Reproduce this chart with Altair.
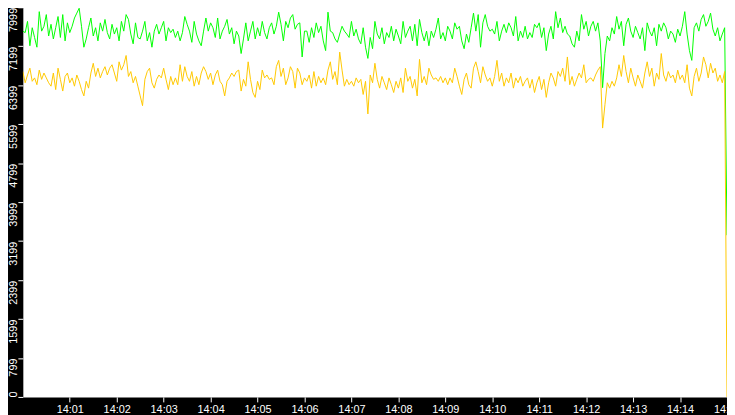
import altair as alt
import pandas as pd

# ---- series values (one sample every 3 s from 14:00:00) ----
green_a = [7510, 7480, 7710, 7210, 7580, 7380, 7180, 7910, 7510, 7610,
           7850, 7410, 7650, 7350, 7580, 7810, 7380, 7850, 7310, 7680,
           7480, 7610, 7780, 7880, 7980, 7610, 7180, 7350, 7580, 7780,
           7410, 7580, 7310, 7680, 7510, 7750, 7480, 7350, 7650, 7450,
           7580, 7310, 7710, 7510, 7850, 7750, 7450, 7250, 7680, 7380,
           7350, 7510, 7710, 7310, 7480, 7180, 7510, 7650, 7450, 7580,
           7710]
green_b = [7310, 7580, 7480, 7550, 7380, 7510, 7310, 7480, 7810, 7650,
           7510, 7280, 7710, 7450, 7310, 7210, 7510, 7780, 7510, 7680,
           7580, 7380, 7780, 7350, 7510, 7610, 7750, 7450, 7580, 7250,
           7510, 7410, 7050, 7350, 7680, 7310, 7510, 7710, 7350, 7580,
           7410, 7710, 7480, 7350, 7580, 7680, 7450, 7610, 7900, 7650,
           7310, 7710, 7580, 7780, 7850, 7550, 7650, 7680, 6980, 7510]
green_c = [7510, 7280, 7580, 7380, 7680, 7480, 7610, 7310, 7110, 7900,
           7510, 7480, 7350, 7280, 7450, 7610, 7510, 7450, 7380, 7710,
           7410, 7550, 7350, 7250, 7580, 7180, 6950, 7380, 7150, 7710,
           7450, 7350, 7580, 7250, 7480, 7380, 7610, 7310, 7550, 7410,
           7250, 7710, 7380, 7510, 7610, 7310, 7650, 7210, 7750, 7480,
           7310, 7510, 7210, 7510, 7380, 7550, 7780, 7350, 7480, 7310,
           7610]
green_d = [7510, 7350, 7680, 7550, 7610, 7310, 7150, 7450, 7280, 7580,
           7880, 7510, 7850, 7180, 7680, 7850, 7610, 7510, 7550, 7450,
           7710, 7310, 7510, 7650, 7480, 7680, 7580, 7410, 7810, 7310,
           7510, 7380, 7610, 7350, 7480, 7380, 7650, 7580, 7680, 7380,
           7580, 7110, 7450, 7610, 7350, 7910, 7580, 7780, 7480, 7610,
           7450, 7410, 7250, 7180, 7510, 7310, 7850, 7550, 7710, 7410]
green_e = [7610, 7710, 7510, 7680, 7310, 6350, 7050, 7410, 7310, 7580,
           7450, 7810, 7550, 7710, 7210, 7650, 7780, 7510, 7380, 7610,
           7480, 7350, 7580, 7110, 7680, 7510, 7410, 7580, 7210, 7650,
           7510, 7680, 7580, 7350, 7510, 7450, 7280, 7550, 7410, 7610,
           7910, 7450, 7110, 6910, 7580, 7680, 7510, 7750, 7850, 7610,
           7710, 7880, 7550, 7410, 7580, 7310, 7450, 7580]
green_end = [3320]

yellow_a = [6680, 6450, 6610, 6750, 6480, 6550, 6410, 6710, 6520, 6650,
            6550, 6450, 6380, 6650, 6310, 6750, 6520, 6280, 6580, 6650,
            6450, 6550, 6380, 6610, 6480, 6310, 6180, 6480, 6340, 6650,
            6850, 6580, 6750, 6550, 6680, 6780, 6610, 6750, 6820, 6650,
            6480, 6880, 6710, 6820, 7010, 6580, 6680, 6450, 6580, 6380,
            6180, 5980, 6520, 6680, 6750, 6450, 6340, 6520, 6610, 6550,
            6750]
yellow_b = [6520, 6310, 6580, 6410, 6550, 6410, 6820, 6480, 6780, 6580,
            6480, 6680, 6380, 6580, 6410, 6650, 6780, 6680, 6520, 6650,
            6410, 6610, 6710, 6480, 6410, 6180, 6480, 6550, 6650, 6580,
            6680, 6710, 6280, 6520, 6380, 6880, 6520, 6250, 6150, 6480,
            6310, 6710, 6550, 6610, 6520, 6550, 6410, 6780, 6910, 6580,
            6750, 6410, 6550, 6780, 6680, 6340, 6750, 6650, 6410, 6550]
yellow_c = [6480, 6610, 6340, 6680, 6380, 6580, 6450, 6550, 6410, 6710,
            6880, 6520, 6680, 6410, 7080, 6710, 6380, 6520, 6410, 6480,
            6380, 6550, 6450, 6520, 6210, 6480, 5810, 6610, 6450, 6850,
            6520, 6340, 6580, 6450, 6310, 6550, 6410, 6250, 6480, 6340,
            6550, 6250, 6750, 6480, 6580, 6340, 6520, 6180, 6930, 6450,
            6580, 6410, 6750, 6610, 6520, 6550, 6480, 6580, 6450, 6550,
            6410]
yellow_d = [6550, 6450, 6750, 6580, 6380, 6210, 6520, 6650, 6410, 6340,
            6750, 6880, 6680, 6450, 6780, 6610, 6480, 6550, 6380, 6580,
            6910, 6480, 6650, 6380, 6550, 6450, 6650, 6340, 6550, 6450,
            6580, 6380, 6480, 6550, 6340, 6520, 6250, 6450, 6580, 6310,
            6520, 6150, 6450, 6650, 6550, 6380, 6680, 6580, 6750, 6480,
            6980, 6410, 6580, 6380, 6520, 6650, 6550, 6820, 6450, 6520]
yellow_e = [6550, 6480, 6610, 6710, 6780, 5520, 6000, 6450, 6340, 6480,
            6380, 6550, 6820, 6580, 7010, 6680, 6450, 6750, 6550, 6380,
            6610, 6480, 6340, 6650, 6880, 6580, 6750, 6380, 6650, 6520,
            7050, 6610, 6480, 6680, 6550, 6610, 6450, 6710, 6520, 6610,
            6450, 6820, 6340, 6180, 6580, 6750, 6480, 6650, 6980, 6820,
            6550, 6850, 6650, 6750, 6480, 6610, 6450, 6680]
yellow_end = [0]

# ---- axis ticks ----
x_tick_minutes = list(range(1, 16))
y_tick_values = [0, 799, 1599, 2399, 3199, 3999, 4799, 5599, 6399, 7199, 7999]

green = green_a + green_b + green_c + green_d + green_e + green_end
yellow = yellow_a + yellow_b + yellow_c + yellow_d + yellow_e + yellow_end

start = pd.Timestamp("2024-01-01 14:00:00")
times = [(start + pd.Timedelta(seconds=3 * i)).strftime("%Y-%m-%dT%H:%M:%S")
         for i in range(len(green))]
df = pd.DataFrame({"time": times, "green": green, "yellow": yellow})


def dt(m):
    return alt.DateTime(year=2024, month=1, date=1, hours=14, minutes=m)


FONT = "Liberation Sans"

x_enc = alt.X(
    "time:T",
    scale=alt.Scale(domain=[dt(0), dt(15)]),
    axis=alt.Axis(
        values=[dt(m) for m in x_tick_minutes],
        format="%H:%M",
        title=None,
        grid=False,
        domain=False,
        labelColor="white",
        tickColor="white",
        tickSize=5,
        labelPadding=2,
        labelFont=FONT,
        labelFontSize=11,
        labelFlush=False,
        labelOverlap=False,
    ),
)

y_axis = alt.Axis(
    values=y_tick_values,
    format="d",
    title=None,
    grid=False,
    domain=False,
    labelColor="white",
    tickColor="white",
    tickSize=5,
    labelPadding=4,
    labelAngle=270,
    labelAlign=alt.ExprRef(expr="datum.value == 0 ? 'left' : 'right'"),
    labelBaseline="middle",
    labelFont=FONT,
    labelFontSize=11,
    labelOverlap=False,
)
y_scale = alt.Scale(domain=[0, 8000], nice=False)

base = alt.Chart(df).encode(x=x_enc)

green_line = base.mark_line(color="#00ff00", strokeWidth=1, clip=True).encode(
    y=alt.Y("green:Q", scale=y_scale, axis=y_axis)
)
yellow_line = base.mark_line(color="#ffc800", strokeWidth=1, clip=True).encode(
    y=alt.Y("yellow:Q", scale=y_scale, axis=y_axis)
)

chart = (
    alt.layer(green_line, yellow_line)
    .properties(
        width=712,
        height=394,
        autosize=alt.AutoSizeParams(type="none"),
        padding={"left": 15, "top": -3, "right": 0, "bottom": 16},
        background="black",
    )
    .configure_view(fill="white", stroke="transparent")
)

chart.save("out.html", embed_options={"renderer": "svg", "actions": False})
